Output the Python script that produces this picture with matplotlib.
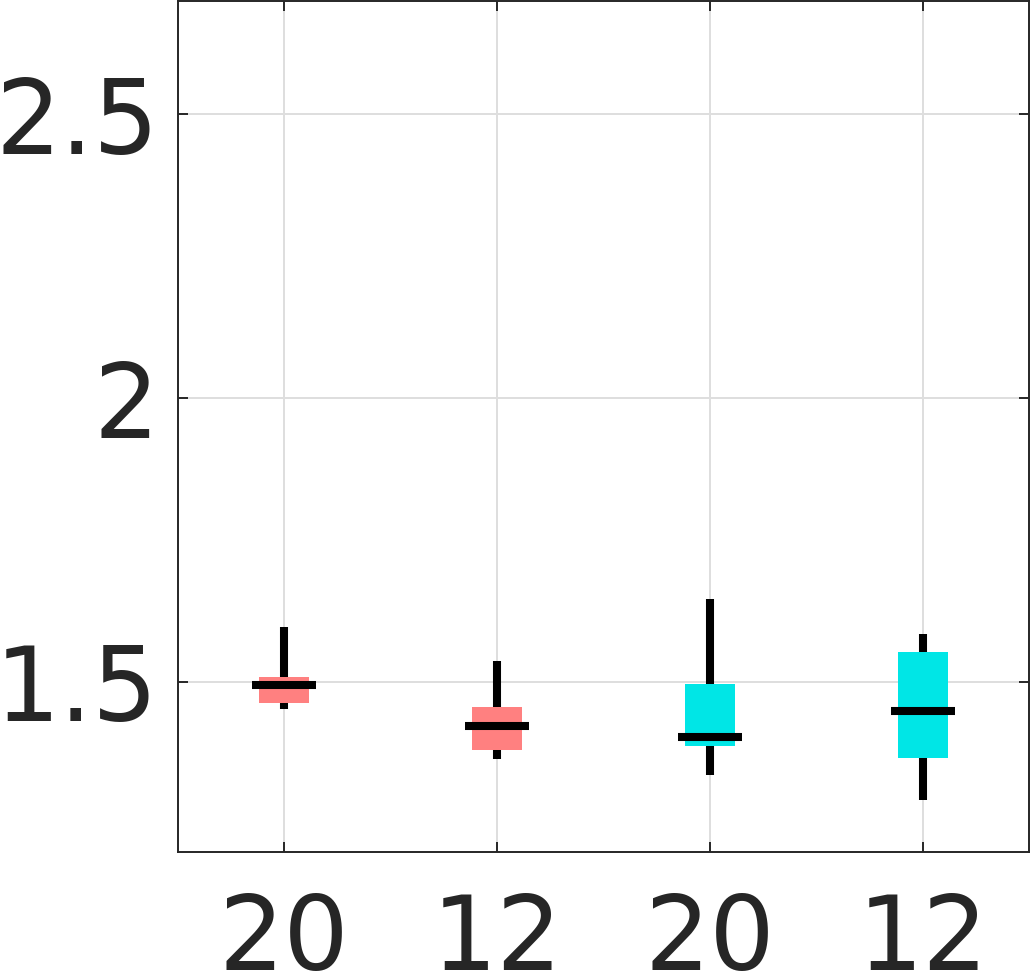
import numpy as np
import matplotlib
matplotlib.use('Agg')
import matplotlib.pyplot as plt

# Box statistics
labels = ['20', '12', '20', '12']
q1 = [1.4625, 1.3791, 1.3863, 1.3661]
q3 = [1.5082, 1.4557, 1.4965, 1.5518]
medians = [1.4944, 1.4214, 1.4030, 1.4493]
whisker_lo = [1.4513, 1.3648, 1.3356, 1.2924]
whisker_hi = [1.5967, 1.5362, 1.6459, 1.5848]
colors = ['#FF8080', '#FF8080', '#00E6E6', '#00E6E6']

positions = np.arange(1, len(labels) + 1)

fig = plt.figure(figsize=(10.31, 9.73), dpi=100)
ax = fig.add_axes([178 / 1031, 121 / 973, 851 / 1031, 851 / 973])

# whiskers behind boxes, medians on top
ax.vlines(positions, whisker_lo, whisker_hi, color='black', linewidth=5.8, zorder=2)
ax.bar(positions, np.array(q3) - np.array(q1), bottom=q1, width=0.236,
       color=colors, edgecolor='none', zorder=3)
ax.hlines(medians, positions - 0.15, positions + 0.15, color='black', linewidth=5.8, zorder=4)

ax.set_xlim(0.5, 4.5)
ax.set_ylim(1.2, 2.7)
ax.set_xticks(positions)
ax.set_xticklabels(labels)
ax.set_yticks([1.5, 2.0, 2.5])
ax.set_yticklabels(['1.5', '2', '2.5'])

ax.grid(True, color='#DEDEDE', linewidth=1.4, zorder=0)
ax.set_axisbelow(True)
ax.tick_params(direction='in', length=7, width=1.4, color='#262626',
               labelsize=74, labelcolor='#262626', top=True, right=True, pad=14)
ax.tick_params(axis='x', pad=28)
for s in ax.spines.values():
    s.set_color('#262626')
    s.set_linewidth(1.4)

fig.savefig('out.png', dpi=100)
